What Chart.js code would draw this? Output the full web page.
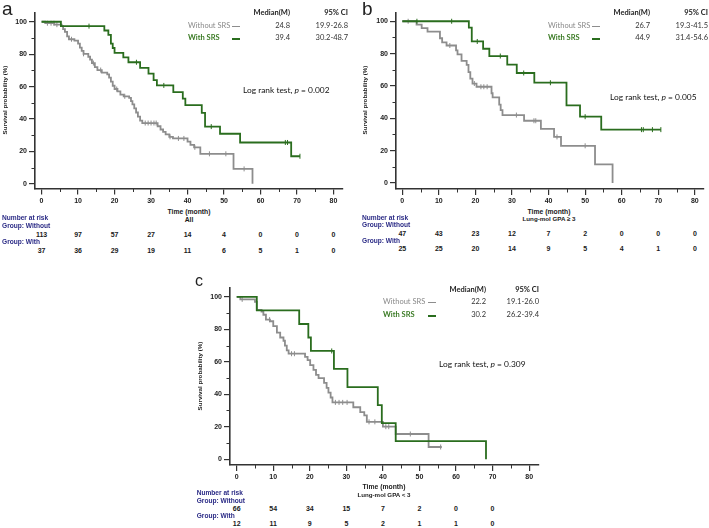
<!DOCTYPE html>
<html><head><meta charset="utf-8">
<script src="https://cdn.jsdelivr.net/npm/chart.js@4"></script>
<style>
body{margin:0;background:#fff;width:709px;height:528px;position:relative;overflow:hidden;font-family:"Liberation Sans",Arial,sans-serif;-webkit-font-smoothing:antialiased}
canvas{position:absolute}
.t{position:absolute;white-space:nowrap;line-height:1}
</style></head><body>
<script>
// ---------- data ----------
const xTicks=[0,10,20,30,40,50,60,70,80];
const xMinor=[5,15,25,35,45,55,65,75];
const yTicks=[0,20,40,60,80,100];
const yMinor=[10,30,50,70,90];

// panel a (All)
const aWithT=[0,5.3,17.2,18.3,19.0,19.5,20.0,22.4,23.8,27.0,29.3,30.7,31.6,36.1,38.7,39.4,43.9,44.8,48.9,54.4,68.4,70.8];
const aWithS=[100,97.3,94.6,91.9,86.5,83.8,80.8,78.0,75.0,71.5,68.0,64.0,60.7,56.6,52.5,48.5,43.8,35.3,30.9,25.5,17.0,17.0];
const aWithC=[13.0,26.0,33.5,46.5,66.8,67.4,70.8];
const aWithoutT=[0,1.0,3.5,5.5,5.9,6.4,7.0,7.5,9.0,10.0,10.5,11.0,11.5,12.8,13.3,13.8,14.6,15.3,16.5,18.0,18.5,19.0,19.5,20.0,20.8,21.6,22.5,24.0,24.5,24.9,25.4,25.9,26.4,27.0,27.6,31.8,32.6,33.3,34.0,35.0,36.0,40.0,40.8,41.8,43.5,52.6,57.8];
const aWithoutS=[100,99.1,98.2,97.3,95.5,93.7,91.0,89.2,88.3,86.5,84.0,82.0,80.2,78.4,76.6,74.5,72.0,70.2,68.6,67.5,65.5,63.0,60.5,58.5,57.0,55.0,54.0,53.0,51.0,49.0,46.5,44.0,41.5,39.0,37.5,35.5,33.5,32.0,30.5,29.0,28.0,26.0,24.0,22.5,18.5,9.2,0];
const aWithoutC=[1.6,2.6,3.4,4.2,8.2,11.5,14.2,16.2,20.6,22.8,28.4,29.2,30.0,30.8,31.4,35.2,37.5,39.0,42.0,46.0,50.5,55.5];
const aRiskWithout=[113,97,57,27,14,4,0,0,0];
const aRiskWith=[37,36,29,19,11,6,5,1,0];

// panel b (Lung-mol GPA >= 3)
const bWithT=[0,18.2,19.0,22.1,23.8,28.7,31.3,36.1,44.9,48.6,54.4,70.7];
const bWithS=[100,96.0,87.5,83.0,78.5,73.2,68.0,62.0,48.0,41.0,33.0,33.0];
const bWithC=[4.0,13.5,20.5,26.8,33.2,40.5,50.0,65.4,65.9,68.4,70.7];
const bWithoutT=[0,3.9,5.3,6.9,10.3,10.9,12.1,14.7,15.1,16.2,17.6,18.1,18.6,19.2,20.3,24.4,24.7,26.5,26.9,27.4,33.3,37.9,41.5,43.4,52.7,57.5];
const bWithoutS=[100,97.9,95.7,93.6,89.5,87.0,85.0,82.0,79.5,75.5,73.0,68.5,64.5,61.5,59.5,55.5,53.0,48.5,45.0,42.0,38.5,33.5,28.5,23.0,11.5,0];
const bWithoutC=[1.6,13.0,19.7,21.5,22.3,23.2,31.2,36.0,36.5,42.3,50.0];
const bRiskWithout=[47,43,23,12,7,2,0,0,0];
const bRiskWith=[25,25,20,14,9,5,4,1,0];

// panel c (Lung-mol GPA < 3)
const cWithT=[0,5.5,17.1,19.6,20.3,26.6,30.3,38.6,39.7,43.5,68.2];
const cWithS=[100,91.7,83.3,75.0,66.7,55.6,44.4,33.3,22.2,11.1,0];
const cWithC=[26.0];
const cWithoutT=[0,1.0,5.0,5.5,6.8,7.3,8.0,9.1,10.0,11.0,11.9,12.8,13.2,13.7,14.2,18.7,19.4,20.1,21.0,21.7,22.4,23.9,24.6,25.1,25.7,26.2,31.9,33.8,34.9,35.6,40.0,43.5,52.5,56.1];
const cWithoutS=[100,98.5,97.0,92.0,91.0,89.0,86.0,85.0,82.0,78.0,75.0,73.0,70.0,67.0,65.0,63.0,61.0,58.0,55.0,52.0,50.0,47.0,44.0,41.0,38.0,35.0,32.0,29.0,27.0,23.0,20.0,15.5,7.5,7.5];
const cWithoutC=[1.5,9.0,15.0,15.8,27.0,28.0,29.0,30.2,36.2,37.8,40.8,41.6,47.5,55.8];
const cRiskTimes=[0,10,20,30,40,50,60,70];
const cRiskWithout=[66,54,34,15,7,2,0,0];
const cRiskWith=[12,11,9,5,2,1,1,0];

// ---------- style ----------
const GREEN='#2a6d1e', GREEN_TXT='#3b7b25', GRAY='#8d8d8d', GRAY_TXT='#8a8a8a', NAVY='#2b2b86', AX='#333';
const TICKFONT={family:'"Liberation Sans", Arial, sans-serif',size:7,weight:'bold'};

function stepAt(T,S,t){let v=S[0];for(let i=0;i<T.length;i++){if(T[i]<=t)v=S[i];}return v;}

const minorTicks={id:'minorTicks',afterDraw(chart){
  const {ctx,scales:{x,y}}=chart;ctx.save();ctx.strokeStyle=AX;ctx.lineWidth=1;ctx.beginPath();
  xMinor.forEach(v=>{const p=Math.round(x.getPixelForValue(v))+0.5;ctx.moveTo(p,x.top);ctx.lineTo(p,x.top+3.5);});
  yMinor.forEach(v=>{const p=Math.round(y.getPixelForValue(v))+0.5;ctx.moveTo(y.right,p);ctx.lineTo(y.right-3.5,p);});
  ctx.stroke();ctx.restore();}};

function put(html,x,y,o={}){
  const d=document.createElement('div');d.className='t';d.innerHTML=html;
  d.style.left=x+'px';d.style.top=y+'px';
  d.style.fontSize=(o.size||7)+'px';d.style.fontWeight=o.weight||'bold';d.style.color=o.color||'#1a1a1a';
  if(o.family)d.style.fontFamily=o.family;
  const tx=o.align==='c'?'-50%':o.align==='r'?'-100%':'0';
  d.style.transform=o.rot?'translate(-50%,-50%) rotate(-90deg)':'translate('+tx+',-50%)';
  document.body.appendChild(d);return d;}

function panel(o){
  const cv=document.createElement('canvas');
  cv.width=o.w;cv.height=o.h;cv.style.left=o.left+'px';cv.style.top=o.top+'px';
  cv.style.width=o.w+'px';cv.style.height=o.h+'px';document.body.appendChild(cv);
  const pts=(T,S)=>T.map((t,i)=>({x:t,y:S[i]}));
  const cens=(C,T,S)=>C.map(t=>({x:t,y:stepAt(T,S,t)}));
  const chart=new Chart(cv,{type:'line',data:{datasets:[
    {data:pts(o.withT,o.withS),borderColor:GREEN,borderWidth:1.8,stepped:true,pointRadius:0,fill:false},
    {type:'scatter',data:cens(o.withC,o.withT,o.withS),pointStyle:'line',rotation:90,pointRadius:2.5,borderColor:GREEN,backgroundColor:GREEN,pointBorderWidth:1},
    {data:pts(o.woT,o.woS),borderColor:GRAY,borderWidth:1.8,stepped:true,pointRadius:0,fill:false},
    {type:'scatter',data:cens(o.woC,o.woT,o.woS),pointStyle:'line',rotation:90,pointRadius:2.5,borderColor:GRAY,backgroundColor:GRAY,pointBorderWidth:1}
  ]},options:{responsive:false,animation:false,devicePixelRatio:1,
    layout:{padding:{left:0,right:o.padR,top:o.padT,bottom:0}},
    plugins:{legend:{display:false},tooltip:{enabled:false}},
    scales:{
      x:{type:'linear',min:o.xmin,max:o.xmax,
        afterFit:s=>{s.height=o.xh;},afterBuildTicks:s=>{s.ticks=xTicks.map(v=>({value:v}));},
        grid:{drawOnChartArea:false,tickLength:6,color:AX,lineWidth:1.2},border:{color:AX,width:1.6},
        ticks:{font:TICKFONT,color:'#222',padding:2,maxRotation:0,autoSkip:false}},
      y:{type:'linear',min:o.ymin,max:o.ymax,
        afterFit:s=>{s.width=o.yw;},afterBuildTicks:s=>{s.ticks=yTicks.map(v=>({value:v}));},
        grid:{drawOnChartArea:false,tickLength:6,color:AX,lineWidth:1.2},border:{color:AX,width:1.6},
        ticks:{font:TICKFONT,color:'#222',padding:2,autoSkip:false}}
    }},plugins:[minorTicks]});
  // risk table numbers placed via the chart's x scale
  const xs=chart.scales.x;
  o.riskT.forEach((t,i)=>{
    const px=o.left+xs.getPixelForValue(t);
    put(String(o.riskWo[i]),px,o.riskY[0],{align:'c',size:7});
    put(String(o.riskW[i]),px,o.riskY[1],{align:'c',size:7});
  });
  return chart;
}

const LEG='Lato, "Liberation Sans", sans-serif';
function legend(o){
  put('Median(M)',o.medR,o.y0,{align:'r',size:7.5,family:LEG,color:'#222'});
  put('95% CI',o.ciR,o.y0,{align:'r',size:7.5,family:LEG,color:'#222'});
  put('Without SRS',o.lx,o.y1,{size:7.5,weight:'normal',family:LEG,color:GRAY_TXT});
  put('With SRS',o.lx,o.y2,{size:7.5,family:LEG,color:GREEN_TXT});
  const s1=document.createElement('div');s1.style.cssText='position:absolute;height:1px;background:'+GRAY+';left:'+o.sx+'px;top:'+(o.y1+0.5)+'px;width:8px';document.body.appendChild(s1);
  const s2=document.createElement('div');s2.style.cssText='position:absolute;height:2px;background:'+GREEN+';left:'+o.sx+'px;top:'+(o.y2)+'px;width:8px';document.body.appendChild(s2);
  put(o.m1,o.medR,o.y1,{align:'r',size:7.5,weight:'normal',family:LEG,color:'#333'});
  put(o.m2,o.medR,o.y2,{align:'r',size:7.5,weight:'normal',family:LEG,color:'#333'});
  put(o.c1,o.ciR,o.y1,{align:'r',size:7.5,weight:'normal',family:LEG,color:'#333'});
  put(o.c2,o.ciR,o.y2,{align:'r',size:7.5,weight:'normal',family:LEG,color:'#333'});
  put('Log rank test, <i>p</i> = '+o.p,o.lrx,o.lry,{size:8.4,weight:'normal',family:LEG,color:'#111'});
}
function riskLabels(x,ys){
  put('Number at risk',x,ys[0],{size:6.6,color:NAVY});
  put('Group: Without',x,ys[1],{size:6.6,color:NAVY});
  put('Group: With',x,ys[2],{size:6.6,color:NAVY});
}

// ---------- panel a ----------
panel({left:0,top:0,w:350,h:206,padR:7,padT:13,yw:35,xh:17.5,xmin:-1.8,xmax:82.6,ymin:-2.9,ymax:105.4,
  withT:aWithT,withS:aWithS,withC:aWithC,woT:aWithoutT,woS:aWithoutS,woC:aWithoutC,
  riskT:xTicks,riskWo:aRiskWithout,riskW:aRiskWith,riskY:[234,250]});
put('a',2,8,{size:19,weight:'normal',color:'#222'});
put('Survival probability (%)',5,100,{rot:true,size:6.2});
put('Time (month)',189,212,{align:'c',size:6.8});
put('All',189,220,{align:'c',size:6.8});
riskLabels(2,[218.3,225.7,241.7]);
legend({medR:290,ciR:348,lx:188,sx:232,y0:13,y1:25.7,y2:38.3,m1:'24.8',m2:'39.4',c1:'19.9-26.8',c2:'30.2-48.7',p:'0.002',lrx:243,lry:90});

// ---------- panel b ----------
panel({left:355,top:0,w:354,h:206,padR:5,padT:13,yw:41,xh:17,xmin:-1.72,xmax:82.5,ymin:-3.7,ymax:105.1,
  withT:bWithT,withS:bWithS,withC:bWithC,woT:bWithoutT,woS:bWithoutS,woC:bWithoutC,
  riskT:xTicks,riskWo:bRiskWithout,riskW:bRiskWith,riskY:[232.7,248.3]});
put('b',362,8,{size:19,weight:'normal',color:'#222'});
put('Survival probability (%)',365,100,{rot:true,size:6.2});
put('Time (month)',549,211.7,{align:'c',size:6.8});
put('Lung-mol GPA ≥ 3',549,219,{align:'c',size:6.2});
riskLabels(362,[217.7,225,240.7]);
legend({medR:650,ciR:708,lx:548,sx:592,y0:13,y1:25.7,y2:38.3,m1:'26.7',m2:'44.9',c1:'19.3-41.5',c2:'31.4-54.6',p:'0.005',lrx:610,lry:96.7});

// ---------- panel c ----------
panel({left:190,top:270,w:360,h:215,padR:11,padT:18,yw:40,xh:20,xmin:-1.83,xmax:82.7,ymin:-3.6,ymax:105.5,
  withT:cWithT,withS:cWithS,withC:cWithC,woT:cWithoutT,woS:cWithoutS,woC:cWithoutC,
  riskT:cRiskTimes,riskWo:cRiskWithout,riskW:cRiskWith,riskY:[508.3,523.3]});
put('c',195,281,{size:16,weight:'normal',color:'#222'});
put('Survival probability (%)',200,376,{rot:true,size:6.2});
put('Time (month)',384,486.7,{align:'c',size:6.8});
put('Lung-mol GPA &lt; 3',384,495,{align:'c',size:6.2});
riskLabels(196.7,[493.3,500.7,516]);
legend({medR:486,ciR:539,lx:383,sx:428,y0:290,y1:301.7,y2:315,m1:'22.2',m2:'30.2',c1:'19.1-26.0',c2:'26.2-39.4',p:'0.309',lrx:439,lry:364});
</script>
</body></html>
